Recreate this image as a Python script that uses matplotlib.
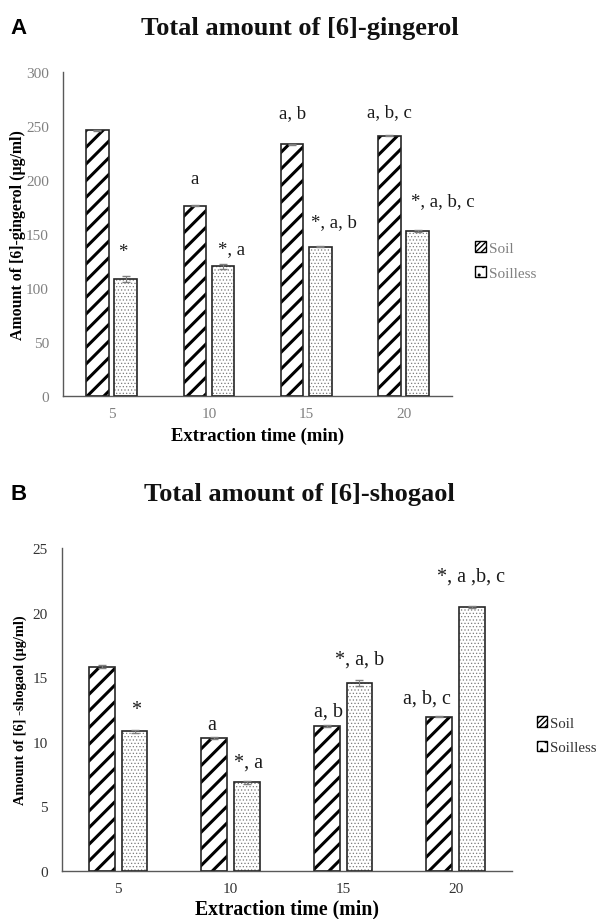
#bar charts of gingerol / shogaol amount vs extraction time
import matplotlib
matplotlib.use("Agg")
import matplotlib.pyplot as plt
from matplotlib.patches import Rectangle
import numpy as np

times = ['5', '10', '15', '20']

ging_soil = [246, 176, 233, 241]
ging_soil_err = [0.6, 0.5, 0.6, 0.6]
ging_soilless = [108, 120, 138, 153]
ging_soilless_err = [2.8, 2.4, 0.5, 0.8]
ging_lab_soil = ['', 'a', 'a, b', 'a, b, c']
ging_lab_soilless = ['*', '*, a', '*, a, b', '*, a, b, c']

shog_soil = [15.8, 10.3, 11.2, 11.95]
shog_soil_err = [0.12, 0.05, 0.06, 0.06]
shog_soilless = [10.8, 6.85, 14.55, 20.45]
shog_soilless_err = [0.12, 0.1, 0.2, 0.08]
shog_lab_soil = ['', 'a', 'a, b', 'a, b, c']
shog_lab_soilless = ['*', '*, a', '*, a, b', '*, a ,b, c']

serif = ['Liberation Serif', 'DejaVu Serif']
plt.rcParams['font.family'] = serif

fig = plt.figure(figsize=(5.99, 9.2), dpi=100)


def panel(rect, soil, soil_err, sless, sless_err, lab_soil, lab_sless,
          ymax, ystep, ylabel, title, letter, letter_y, title_y,
          tickcol, fs_lab, fs_tick, fs_ylab, fs_xlab, xlab_y, ylab_x, leg_xy, leg_fs,
          off_soil, off_sless):
    ax = fig.add_axes(rect)
    x = np.arange(len(times))
    w = 0.23
    d = 0.145
    with plt.rc_context({'hatch.linewidth': 2.2}):
        ax.bar(x - d, soil, w, color='white', edgecolor='black',
               hatch='//', linewidth=0, zorder=2)
    ax.bar(x - d, soil, w, color='none', edgecolor='#262626', linewidth=1.2, zorder=3)
    with plt.rc_context({'hatch.linewidth': 0.5}):
        ax.bar(x + d, sless, w, color='white', edgecolor='#7a7a7a',
               hatch='.....', linewidth=0, zorder=2)
    ax.bar(x + d, sless, w, color='none', edgecolor='#262626', linewidth=1.2, zorder=3)
    ax.errorbar(x - d, soil, yerr=soil_err, fmt='none', ecolor='#7f7f7f',
                elinewidth=0.8, capsize=3, zorder=4)
    ax.errorbar(x + d, sless, yerr=sless_err, fmt='none', ecolor='#7f7f7f',
                elinewidth=0.8, capsize=3, zorder=4)

    for i in range(len(times)):
        if lab_soil[i]:
            ax.annotate(lab_soil[i], (x[i] - d, soil[i]), xytext=off_soil[i],
                        textcoords='offset points', ha='center', va='center',
                        fontsize=fs_lab, color='#1a1a1a')
        ax.annotate(lab_sless[i], (x[i] + d, sless[i]), xytext=off_sless[i],
                    textcoords='offset points', ha='center', va='center',
                    fontsize=fs_lab, color='#1a1a1a')

    ax.set_xlim(-0.5, len(times) - 0.5)
    ax.set_ylim(0, ymax)
    ax.set_xticks(x)
    ax.set_xticklabels(times)
    ax.set_yticks(np.arange(0, ymax + 1e-9, ystep))
    ax.tick_params(length=0, labelsize=fs_tick, labelcolor=tickcol, pad=8)
    ax.tick_params(axis='y', pad=10)
    for s in ['top', 'right']:
        ax.spines[s].set_visible(False)
    for s in ['left', 'bottom']:
        ax.spines[s].set_color('#595959')
        ax.spines[s].set_linewidth(1.0)
    ax.set_ylabel(ylabel, fontsize=fs_ylab, fontweight='bold')
    ax.yaxis.set_label_coords(ylab_x, 0.5)
    ax.set_xlabel('Extraction time (min)', fontsize=fs_xlab, fontweight='bold')
    ax.xaxis.set_label_coords(0.5, xlab_y)

    h1 = Rectangle((0, 0), 1, 1, facecolor='white', edgecolor='black', hatch='//////', linewidth=1)
    h2 = Rectangle((0, 0), 1, 1, facecolor='white', edgecolor='black', hatch='..', linewidth=1)
    ax.legend([h1, h2], ['Soil', 'Soilless'], loc='center left',
              bbox_to_anchor=leg_xy, bbox_transform=fig.transFigure,
              frameon=False, fontsize=leg_fs, handlelength=0.7, handleheight=0.7,
              handletextpad=0.2, labelspacing=0.75, borderpad=0, borderaxespad=0,
              labelcolor=tickcol)

    fig.text(0.5, title_y, title, ha='center', va='center', fontsize=19,
             fontweight='bold', color='#111111')
    fig.text(0.017, letter_y, letter, ha='left', va='center', fontsize=16,
             fontweight='bold', family=['Liberation Sans', 'DejaVu Sans'])
    return ax


panel([0.105, 0.5685, 0.65, 0.3522], ging_soil, ging_soil_err, ging_soilless,
      ging_soilless_err, ging_lab_soil, ging_lab_soilless,
      300, 50, 'Amount of [6]-gingerol (µg/ml)', 'Total amount of [6]-gingerol',
      'A', 0.969, 0.969, '#808080', 13.5, 11, 11.4, 13.4, -0.095, -0.095,
      (0.793, 0.7158), 11,
      [(0, 0), (0, 20), (0, 23), (0, 17)],
      [(-2, 20), (6, 13), (10, 18), (18, 22)])

panel([0.1035, 0.0522, 0.751, 0.3511], shog_soil, shog_soil_err, shog_soilless,
      shog_soilless_err, shog_lab_soil, shog_lab_soilless,
      25, 5, 'Amount of [6] -shogaol (µg/ml)', 'Total amount of [6]-shogaol',
      'B', 0.4625, 0.4625, '#333333', 14.5, 11, 10.4, 14.2, -0.086, -0.078,
      (0.896, 0.1995), 10.7,
      [(0, 0), (-2, 10), (1, 11), (-9, 13)],
      [(1, 16), (1, 15), (0, 17), (-1, 22)])

fig.savefig('out.png', dpi=100)
